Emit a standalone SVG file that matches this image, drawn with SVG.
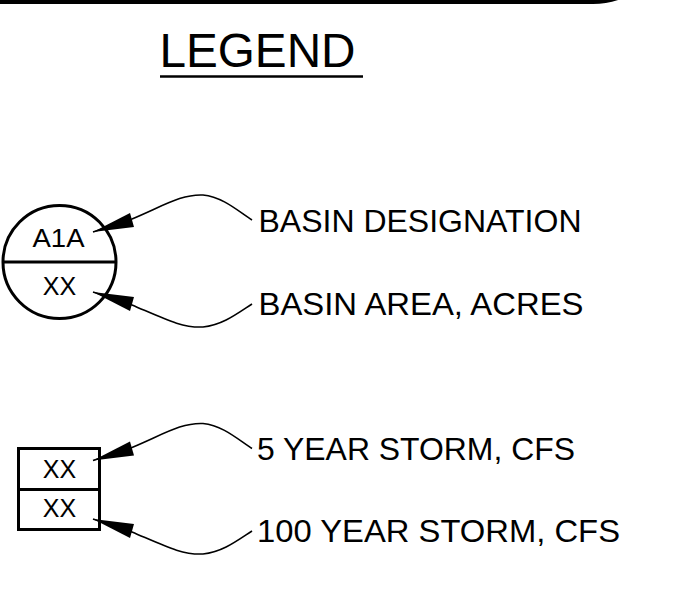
<svg xmlns="http://www.w3.org/2000/svg" width="694" height="598" viewBox="0 0 694 598">
  <style>
    text { font-family: "Liberation Sans", Arial, sans-serif; fill: #000; }
    .lbl { font-size: 31.5px; }
    .sym { font-size: 25px; text-anchor: middle; }
    .shape { fill: #fff; stroke: #000; stroke-width: 3; }
    .lead { fill: none; stroke: #000; stroke-width: 1.6; stroke-linejoin: round; }
    .head { fill: #000; stroke: none; }
  </style>
  <defs>
    <g id="arrowUp">
      <path class="lead" d="M 93 232 L 132 219 C 165 205, 182 194, 203 195 C 223 197, 238 211, 252 220"/>
      <polygon class="head" points="93,232 130,213 134,227"/>
    </g>
    <g id="arrowDown">
      <path class="lead" d="M 93 292 L 132 305 C 165 319, 182 328, 203 327 C 223 325, 238 313, 252 304"/>
      <polygon class="head" points="93,292 130,311 134,297"/>
    </g>
  </defs>
  <rect width="694" height="598" fill="#fff"/>

  <g id="border">
    <path d="M -10 1.5 H 593 A 78 78 0 0 0 632 -9" fill="none" stroke="#000" stroke-width="5"/>
  </g>

  <g id="title">
    <text x="159.5" y="67" font-size="48" textLength="196" lengthAdjust="spacingAndGlyphs">LEGEND</text>
    <line x1="160" y1="76.5" x2="363" y2="76.5" stroke="#000" stroke-width="2.5"/>
  </g>

  <g id="basin-symbol">
    <circle class="shape" cx="59.5" cy="262" r="56.5"/>
    <line x1="3" y1="262" x2="116" y2="262" stroke="#000" stroke-width="3"/>
    <text class="sym" x="58.5" y="247" textLength="52" lengthAdjust="spacingAndGlyphs">A1A</text>
    <text class="sym" x="59.5" y="295">XX</text>
  </g>

  <g id="flow-symbol">
    <rect class="shape" x="18.5" y="448.5" width="81" height="81"/>
    <line x1="18.5" y1="489.5" x2="99.5" y2="489.5" stroke="#000" stroke-width="3"/>
    <text class="sym" x="59.5" y="478">XX</text>
    <text class="sym" x="59.5" y="517">XX</text>
  </g>

  <g id="connectors">
    <use href="#arrowUp"/>
    <use href="#arrowDown"/>
    <use href="#arrowUp" transform="translate(0,228.5)"/>
    <use href="#arrowDown" transform="translate(0,227)"/>
  </g>

  <g id="label-basin-designation"><text class="lbl" x="258.5" y="232" textLength="323" lengthAdjust="spacingAndGlyphs">BASIN DESIGNATION</text></g>
  <g id="label-basin-area"><text class="lbl" x="258.5" y="315" textLength="325" lengthAdjust="spacingAndGlyphs">BASIN AREA, ACRES</text></g>
  <g id="label-5yr"><text class="lbl" x="257" y="460" textLength="318" lengthAdjust="spacingAndGlyphs">5 YEAR STORM, CFS</text></g>
  <g id="label-100yr"><text class="lbl" x="257" y="542" textLength="363" lengthAdjust="spacingAndGlyphs">100 YEAR STORM, CFS</text></g>
</svg>
